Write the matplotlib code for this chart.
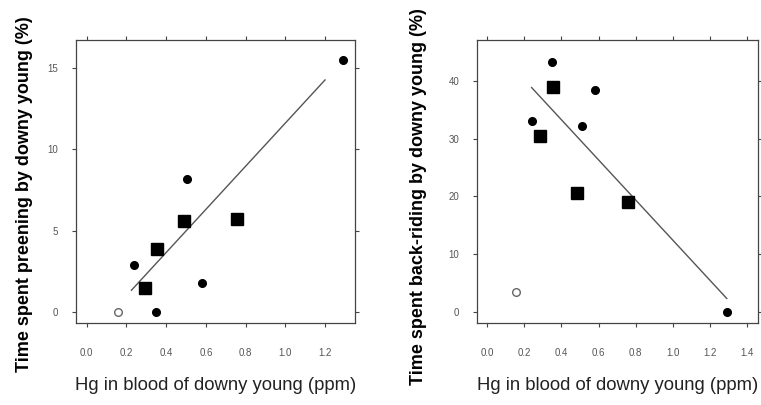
import matplotlib.pyplot as plt

plt.rcParams['font.family'] = ['Liberation Sans', 'DejaVu Sans']

# ---------- data: left panel (preening) ----------
pre_circ_x = [1.292, 0.507, 0.237, 0.579, 0.347]
pre_circ_y = [15.5, 8.2, 2.9, 1.8, 0.0]
pre_open_x = [0.159]
pre_open_y = [0.0]
pre_sq_x = [0.292, 0.352, 0.488, 0.759]
pre_sq_y = [1.5, 3.9, 5.6, 5.7]
pre_line_x = [0.225, 1.2]
pre_line_y = [1.35, 14.25]

# ---------- data: right panel (back-riding) ----------
back_circ_x = [0.351, 0.239, 0.581, 0.509, 1.292]
back_circ_y = [43.2, 33.1, 38.4, 32.1, 0.1]
back_open_x = [0.155]
back_open_y = [3.6]
back_sq_x = [0.353, 0.283, 0.486, 0.761]
back_sq_y = [38.9, 30.4, 20.6, 19.0]
back_line_x = [0.239, 1.292]
back_line_y = [38.8, 2.4]

x_label = "Hg in blood of downy young (ppm)"
y_label_left = "Time spent preening by downy young (%)"
y_label_right = "Time spent back-riding by downy young (%)"

fig = plt.figure(figsize=(7.61, 4.05), dpi=100)
ax1 = fig.add_axes([0.0999, 0.2032, 0.3666, 0.698])
ax2 = fig.add_axes([0.6272, 0.2032, 0.3685, 0.698])


def draw(ax, cx, cy, ox, oy, sx, sy, lx, ly):
    ax.plot(lx, ly, color='#555555', lw=1.0, zorder=1)
    ax.plot(cx, cy, 'o', color='black', ms=5.5, zorder=3)
    ax.plot(ox, oy, 'o', mfc='white', mec='#666666', mew=1.0, ms=5.5, zorder=3)
    ax.plot(sx, sy, 's', color='black', ms=8.5, zorder=3)
    ax.tick_params(direction='out', length=3, width=0.8, color='#444444',
                   labelsize=7, labelcolor='#555555',
                   top=True, right=True)
    ax.tick_params(axis='x', pad=15)
    ax.tick_params(axis='y', pad=10)
    for s in ax.spines.values():
        s.set_color('#444444')
        s.set_linewidth(0.9)
    ax.set_xlabel(x_label, fontsize=13.3, labelpad=14)
    ax.xaxis.label.set_color('#222222')


draw(ax1, pre_circ_x, pre_circ_y, pre_open_x, pre_open_y,
     pre_sq_x, pre_sq_y, pre_line_x, pre_line_y)
ax1.set_xlim(-0.054, 1.351)
ax1.set_ylim(-0.64, 16.7)
ax1.set_xticks([0.0, 0.2, 0.4, 0.6, 0.8, 1.0, 1.2])
ax1.set_xticklabels(['0.0', '0.2', '0.4', '0.6', '0.8', '1.0', '1.2'])
ax1.set_yticks([0, 5, 10, 15])
ax1.set_ylabel(y_label_left, fontsize=13, fontweight='bold')
ax1.yaxis.set_label_coords(-0.156, 0.455)

draw(ax2, back_circ_x, back_circ_y, back_open_x, back_open_y,
     back_sq_x, back_sq_y, back_line_x, back_line_y)
ax2.set_xlim(-0.054, 1.459)
ax2.set_ylim(-1.78, 47.0)
ax2.set_xticks([0.0, 0.2, 0.4, 0.6, 0.8, 1.0, 1.2, 1.4])
ax2.set_xticklabels(['0.0', '0.2', '0.4', '0.6', '0.8', '1.0', '1.2', '1.4'])
ax2.set_yticks([0, 10, 20, 30, 40])
ax2.set_ylabel(y_label_right, fontsize=13, fontweight='bold')
ax2.yaxis.set_label_coords(-0.178, 0.445)

fig.savefig("out.png", dpi=100)
